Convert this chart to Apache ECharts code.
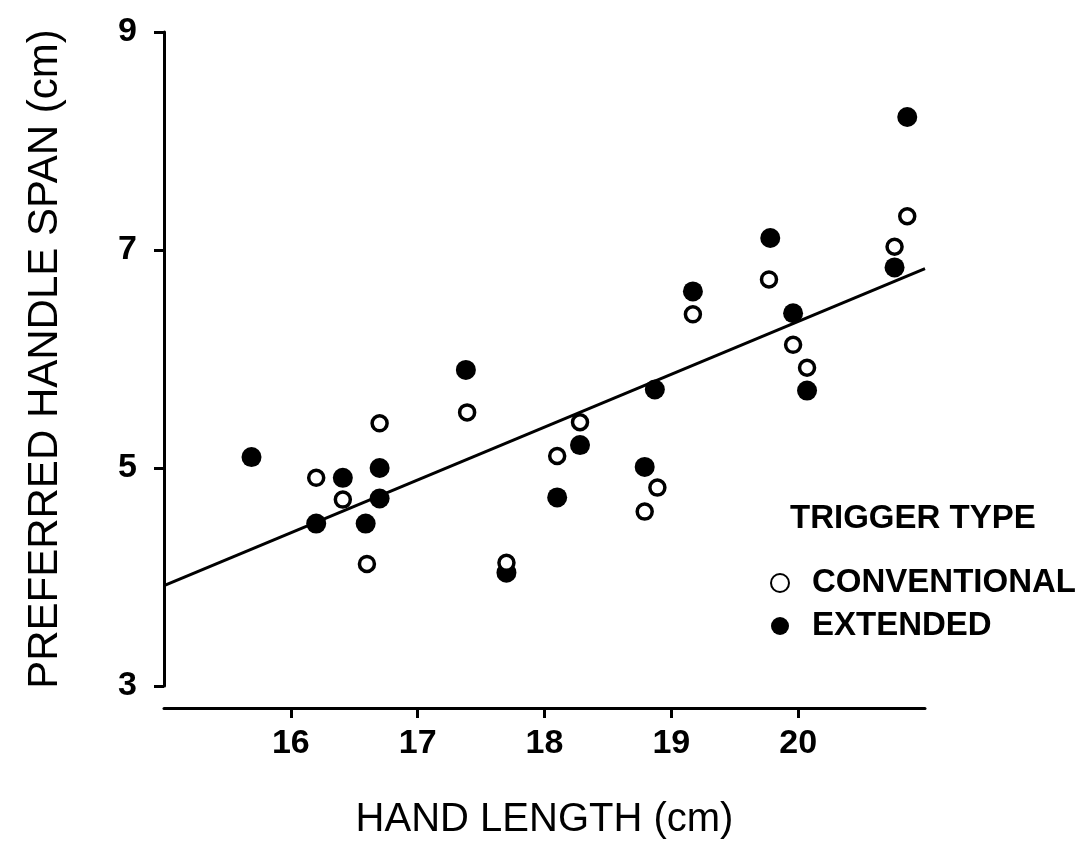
<!DOCTYPE html>
<html>
<head>
<meta charset="utf-8">
<script src="https://cdn.jsdelivr.net/npm/echarts@6/dist/echarts.min.js"></script>
<style>
  html, body { margin: 0; padding: 0; background: #fff; }
  #chart { width: 1086px; height: 845px; }
</style>
</head>
<body>
<div id="chart"></div>
<script>
// ---- data ----
const conventionalX = [16.20, 16.41, 16.70, 16.60, 17.39, 17.70, 18.28, 18.10, 18.89, 18.79, 19.17, 19.77, 19.96, 20.07, 20.86, 20.76];
const conventionalY = [4.91, 4.71, 5.41, 4.12, 5.51, 4.13, 5.42, 5.11, 4.82, 4.60, 6.41, 6.73, 6.13, 5.92, 7.31, 7.03];
const extendedX = [15.69, 16.41, 16.20, 16.70, 16.70, 16.59, 17.38, 17.70, 18.28, 18.10, 18.79, 18.87, 19.17, 19.78, 19.96, 20.07, 20.76, 20.86];
const extendedY = [5.10, 4.91, 4.49, 5.00, 4.72, 4.49, 5.90, 4.04, 5.21, 4.73, 5.01, 5.72, 6.62, 7.11, 6.42, 5.71, 6.84, 8.22];
const fitLineX = [15, 21];
const fitLineY = [3.92, 6.83];
const xTicks = [16, 17, 18, 19, 20];
const yTicks = [3, 5, 7, 9];
const seriesNames = ['CONVENTIONAL', 'EXTENDED'];
const legendTitle = 'TRIGGER TYPE';
const xTitle = 'HAND LENGTH (cm)';
const yTitle = 'PREFERRED HANDLE SPAN (cm)';

const zip = (xs, ys) => xs.map((x, i) => [x, ys[i]]);
const FONT = "'Liberation Sans', Arial, Helvetica, sans-serif";

const chart = echarts.init(document.getElementById('chart'), null, { renderer: 'canvas' });
chart.setOption({
  animation: false,
  backgroundColor: '#ffffff',
  title: {
    text: legendTitle,
    left: 790,
    top: 502,
    padding: 0,
    textStyle: { fontFamily: FONT, fontSize: 33, fontWeight: 'bold', color: '#000', lineHeight: 34 }
  },
  legend: {
    orient: 'vertical',
    left: 770,
    top: 566,
    padding: 0,
    itemWidth: 54,
    itemHeight: 18,
    itemGap: 9,
    icon: 'circle',
    data: seriesNames,
    textStyle: { fontFamily: FONT, fontSize: 33, fontWeight: 'bold', color: '#000', lineHeight: 34 }
  },
  grid: { left: 164, right: 161, top: 32, bottom: 158, containLabel: false },
  xAxis: {
    type: 'value',
    min: 15,
    max: 21,
    offset: 22,
    splitLine: { show: false },
    axisLine: { show: true, onZero: false, lineStyle: { color: '#000', width: 3 } },
    axisTick: { show: true, customValues: xTicks, length: 10, inside: false, lineStyle: { color: '#000', width: 3 } },
    axisLabel: { customValues: xTicks, margin: 19, color: '#000', fontFamily: FONT, fontSize: 34, fontWeight: 'bold' },
    name: xTitle,
    nameLocation: 'middle',
    nameGap: 92,
    nameTextStyle: { fontFamily: FONT, fontSize: 40, color: '#000' }
  },
  yAxis: {
    type: 'value',
    min: 3,
    max: 9,
    splitLine: { show: false },
    axisLine: { show: true, onZero: false, lineStyle: { color: '#000', width: 3 } },
    axisTick: { show: true, customValues: yTicks, length: 10, inside: false, lineStyle: { color: '#000', width: 3 } },
    axisLabel: { customValues: yTicks, margin: 27, color: '#000', fontFamily: FONT, fontSize: 34, fontWeight: 'bold' },
    name: yTitle,
    nameLocation: 'middle',
    nameRotate: 90,
    nameGap: 98,
    nameTextStyle: { fontFamily: FONT, fontSize: 42, color: '#000' }
  },
  series: [
    {
      name: 'fit',
      type: 'line',
      data: zip(fitLineX, fitLineY),
      symbol: 'none',
      z: 1,
      lineStyle: { color: '#000', width: 3 },
      silent: true
    },
    {
      name: seriesNames[0],
      type: 'scatter',
      data: zip(conventionalX, conventionalY),
      symbol: 'circle',
      symbolSize: 15,
      z: 3,
      itemStyle: { color: '#fff', borderColor: '#000', borderWidth: 3.5, opacity: 1 }
    },
    {
      name: seriesNames[1],
      type: 'scatter',
      data: zip(extendedX, extendedY),
      symbol: 'circle',
      symbolSize: 20,
      z: 2,
      itemStyle: { color: '#000', borderWidth: 0, opacity: 1 }
    }
  ]
});
</script>
</body>
</html>
